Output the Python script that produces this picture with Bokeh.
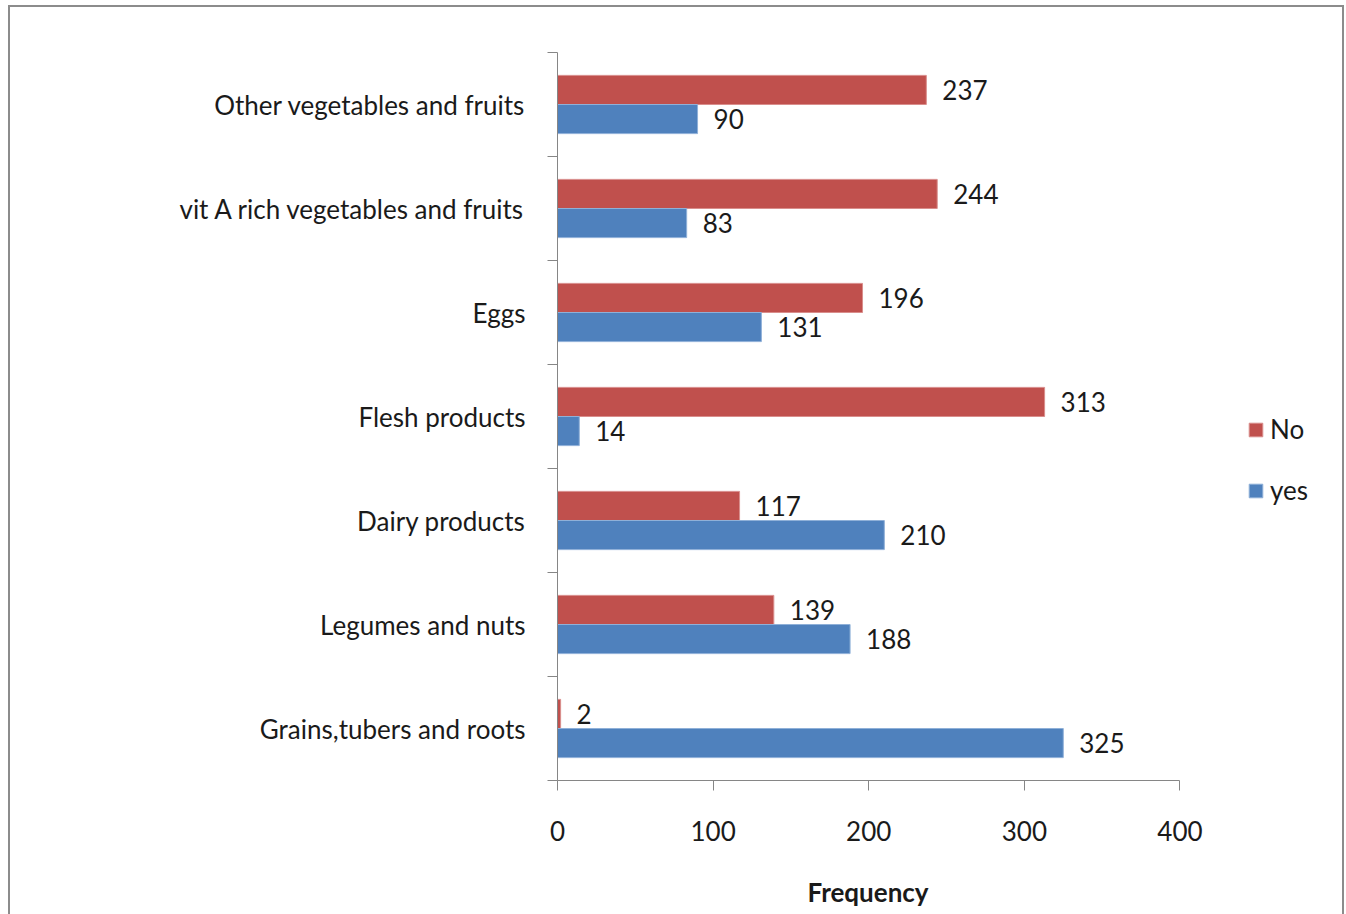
from bokeh.plotting import figure
from bokeh.models import ColumnDataSource, FixedTicker, Legend, LegendItem, Range1d, Title
from bokeh.core.properties import value
from bokeh.embed import file_html
from bokeh.resources import INLINE

# Food groups, listed bottom to top
categories = [
    "Grains,tubers and roots",
    "Legumes and nuts",
    "Dairy products",
    "Flesh products",
    "Eggs",
    "vit A rich vegetables and fruits",
    "Other vegetables and fruits",
]
no_counts = [2, 139, 117, 313, 196, 244, 237]
yes_counts = [325, 188, 210, 14, 131, 83, 90]
x_ticks = [0, 100, 200, 300, 400]

FONT = "Lato"
FS = "26px"
RED = "#C0504D"
BLUE = "#4F81BD"
TEXT = "#1a1a1a"

centers = [i + 0.5 for i in range(len(categories))]
bar_h = 0.28
off = 0.14

no_src = ColumnDataSource(dict(
    y=[c + off for c in centers], v=no_counts, lbl=[str(v) for v in no_counts]))
yes_src = ColumnDataSource(dict(
    y=[c - off for c in centers], v=yes_counts, lbl=[str(v) for v in yes_counts]))

# The frame runs to the right edge so the legend sits inside it; the x axis
# itself is bounded to 0-400.
p = figure(
    width=1336, height=931,
    x_range=Range1d(0, 507), y_range=Range1d(0, len(categories)),
    output_backend="svg", toolbar_location=None,
    min_border_left=547, min_border_right=0,
    min_border_top=45, min_border_bottom=158,
)
p.styles = {"margin": "5px 0 0 8px", "border": "2px solid #8c8c8c"}
p.outline_line_color = None
p.xgrid.visible = False
p.ygrid.visible = False
p.background_fill_color = "white"
p.border_fill_color = "white"

r_no = p.hbar(y="y", right="v", left=0, height=bar_h, source=no_src,
              fill_color=RED, line_color="#d98e8c", line_width=1)
r_yes = p.hbar(y="y", right="v", left=0, height=bar_h, source=yes_src,
               fill_color=BLUE, line_color="#8fb0d8", line_width=1)

for src in (no_src, yes_src):
    p.text(x="v", y="y", text="lbl", source=src, x_offset=16,
           text_baseline="middle", text_align="left",
           text_font=value(FONT), text_font_size=FS, text_color=TEXT)

# x axis
xa = p.xaxis[0]
xa.bounds = (0, 400)
xa.ticker = FixedTicker(ticks=x_ticks)
xa.axis_line_color = "#868686"
xa.major_tick_line_color = "#868686"
xa.major_tick_in = 0
xa.major_tick_out = 10
xa.minor_tick_line_color = None
xa.major_label_standoff = 30
xa.major_label_text_font = FONT
xa.major_label_text_font_size = FS
xa.major_label_text_color = TEXT

# axis title, centred under the 0-400 span of the axis
p.add_layout(Title(text="Frequency", align="left", offset=250, standoff=61,
                   text_font=FONT, text_font_size=FS, text_font_style="bold",
                   text_color=TEXT), "below")

# y axis: labels centred in each band, ticks on the band boundaries
ya = p.yaxis[0]
ya.ticker = FixedTicker(ticks=centers, minor_ticks=list(range(len(categories) + 1)))
ya.major_label_overrides = {c: lab for c, lab in zip(centers, categories)}
ya.axis_line_color = "#868686"
ya.major_tick_line_color = None
ya.major_tick_in = 0
ya.major_tick_out = 0
ya.minor_tick_line_color = "#868686"
ya.minor_tick_in = 0
ya.minor_tick_out = 10
ya.major_label_standoff = 22
ya.major_label_text_font = FONT
ya.major_label_text_font_size = FS
ya.major_label_text_color = TEXT

legend = Legend(
    items=[LegendItem(label="No", renderers=[r_no]),
           LegendItem(label="yes", renderers=[r_yes])],
    location=(690, 274),
    glyph_width=17, glyph_height=17, label_height=30, spacing=29,
    padding=0, margin=0, label_standoff=6,
    border_line_color=None, background_fill_alpha=0,
    label_text_font=FONT, label_text_font_size=FS, label_text_color=TEXT,
)
p.add_layout(legend, "center")

open("out.html", "w").write(file_html(p, INLINE))
